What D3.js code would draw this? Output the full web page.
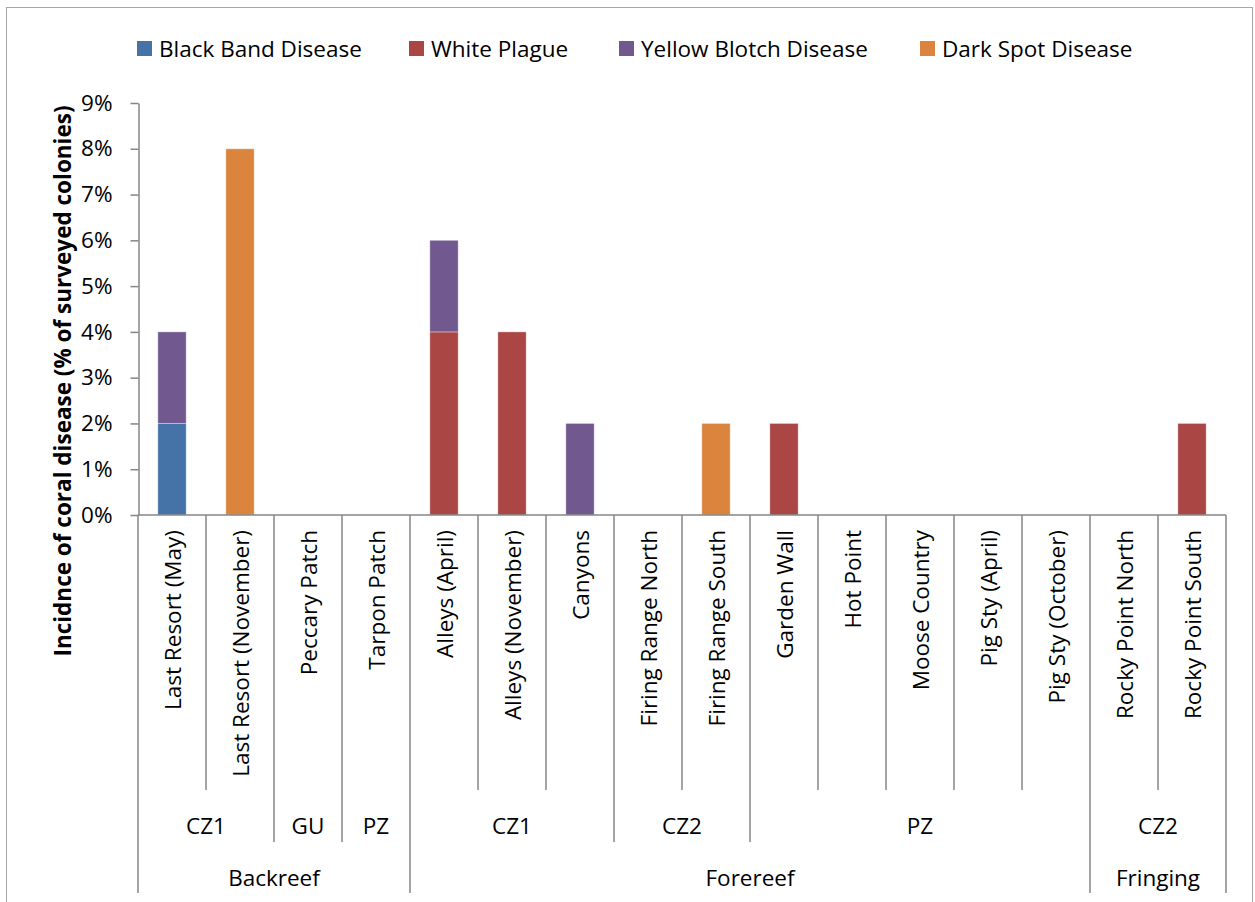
<!DOCTYPE html>
<html>
<head>
<meta charset="utf-8">
<script src="https://cdn.jsdelivr.net/npm/d3@7"></script>
<style>
  body { margin: 0; background: #fff; }
  svg { display: block; font-family: 'Open Sans', sans-serif; }
</style>
</head>
<body>
<svg id="chart" width="1255" height="902"></svg>
<script>
// Sites, grouped by zone and habitat
var sites = ['Last Resort (May)', 'Last Resort (November)', 'Peccary Patch', 'Tarpon Patch',
    'Alleys (April)', 'Alleys (November)', 'Canyons', 'Firing Range North', 'Firing Range South',
    'Garden Wall', 'Hot Point', 'Moose Country', 'Pig Sty (April)', 'Pig Sty (October)',
    'Rocky Point North', 'Rocky Point South'];
var zones = ['CZ1', 'CZ1', 'GU', 'PZ', 'CZ1', 'CZ1', 'CZ1', 'CZ2', 'CZ2',
    'PZ', 'PZ', 'PZ', 'PZ', 'PZ', 'CZ2', 'CZ2'];
var habitats = ['Backreef', 'Backreef', 'Backreef', 'Backreef',
    'Forereef', 'Forereef', 'Forereef', 'Forereef', 'Forereef', 'Forereef',
    'Forereef', 'Forereef', 'Forereef', 'Forereef', 'Fringing', 'Fringing'];

// Incidence (%) per disease
var diseases = ['Black Band Disease', 'White Plague', 'Yellow Blotch Disease', 'Dark Spot Disease'];
var blackBand    = [2, 0, 0, 0, 0, 0, 0, 0, 0, 0, 0, 0, 0, 0, 0, 0];
var whitePlague  = [0, 0, 0, 0, 4, 4, 0, 0, 0, 2, 0, 0, 0, 0, 0, 2];
var yellowBlotch = [2, 0, 0, 0, 2, 0, 2, 0, 0, 0, 0, 0, 0, 0, 0, 0];
var darkSpot     = [0, 8, 0, 0, 0, 0, 0, 0, 2, 0, 0, 0, 0, 0, 0, 0];
var yTicks = [0, 1, 2, 3, 4, 5, 6, 7, 8, 9];

var colors = ['#4572A7', '#AA4643', '#71588F', '#DB843D'];
var axisColor = '#868686';
var fontSize = 22.5;

var svg = d3.select('#chart');

// outer frame
svg.append('rect')
    .attr('x', 6.5).attr('y', 7.5)
    .attr('width', 1246).attr('height', 920)
    .attr('fill', 'none')
    .attr('stroke', '#a6a6a6');

var data = sites.map(function(s, i) {
    var o = { site: s };
    o[diseases[0]] = blackBand[i];
    o[diseases[1]] = whitePlague[i];
    o[diseases[2]] = yellowBlotch[i];
    o[diseases[3]] = darkSpot[i];
    return o;
});

var x = d3.scaleBand().domain(sites).range([138, 1226]);
var y = d3.scaleLinear().domain([0, 9]).range([515, 103]);
var z = d3.scaleOrdinal().domain(diseases).range(colors);
var barW = x.bandwidth() / 2.4;

// bars
var layer = svg.append('g')
    .selectAll('g')
    .data(d3.stack().keys(diseases)(data))
    .enter().append('g')
        .attr('fill', function(d) { return z(d.key); });

layer.selectAll('rect')
    .data(function(d) { return d.filter(function(p) { return p[1] > p[0]; }); })
    .enter().append('rect')
        .attr('x', function(d) { return x(d.data.site) + (x.bandwidth() - barW) / 2; })
        .attr('y', function(d) { return y(d[1]); })
        .attr('width', barW)
        .attr('height', function(d) { return y(d[0]) - y(d[1]); })
        .attr('stroke', 'rgba(255,255,255,0.35)')
        .attr('stroke-width', 1);

// y axis
var yAxis = svg.append('g')
    .attr('transform', 'translate(138.5,0)')
    .call(d3.axisLeft(y)
        .tickValues(yTicks)
        .tickSize(8)
        .tickSizeOuter(0)
        .tickPadding(18)
        .tickFormat(function(d) { return d + '%'; }));
yAxis.select('.domain').attr('stroke', axisColor).attr('stroke-width', 1.5);
yAxis.selectAll('.tick line').attr('stroke', axisColor).attr('stroke-width', 1.5);
yAxis.selectAll('.tick text')
    .attr('font-family', 'Open Sans, sans-serif')
    .attr('font-size', fontSize)
    .attr('fill', '#000');

svg.append('text')
    .attr('transform', 'translate(62,381) rotate(-90)')
    .attr('text-anchor', 'middle')
    .attr('dominant-baseline', 'central')
    .attr('font-weight', 'bold')
    .attr('font-size', 22.5)
    .text('Incidnce of coral disease (% of surveyed colonies)');

// x axis with multi-level categories
var level1 = 790, level2 = 842, level3 = 893;
var xAxis = svg.append('g')
    .attr('stroke', axisColor)
    .attr('stroke-width', 1.5);

xAxis.append('line')
    .attr('x1', 138).attr('x2', 1226)
    .attr('y1', 515).attr('y2', 515);

var bounds = d3.range(sites.length + 1);
xAxis.selectAll('.sep')
    .data(bounds)
    .enter().append('line')
        .attr('x1', function(i) { return i < sites.length ? x(sites[i]) : x.range()[1]; })
        .attr('x2', function(i) { return i < sites.length ? x(sites[i]) : x.range()[1]; })
        .attr('y1', 515)
        .attr('y2', function(i) {
            if (i === 0 || i === sites.length || habitats[i] !== habitats[i - 1]) return level3;
            if (zones[i] !== zones[i - 1]) return level2;
            return level1;
        });

svg.selectAll('.site')
    .data(sites)
    .enter().append('text')
        .attr('transform', function(d) {
            return 'translate(' + (x(d) + x.bandwidth() / 2) + ',530) rotate(-90)';
        })
        .attr('text-anchor', 'end')
        .attr('dominant-baseline', 'central')
        .attr('font-size', fontSize)
        .text(function(d) { return d; });

// collapse consecutive values into runs
function runs(keys) {
    var out = [];
    keys.forEach(function(k, i) {
        var last = out[out.length - 1];
        if (last && last.key === k && habitats[i] === habitats[last.end]) last.end = i;
        else out.push({ key: k, start: i, end: i });
    });
    return out;
}

svg.selectAll('.zone')
    .data(runs(zones))
    .enter().append('text')
        .attr('x', function(d) { return (x(sites[d.start]) + x(sites[d.end]) + x.bandwidth()) / 2; })
        .attr('y', 825)
        .attr('text-anchor', 'middle')
        .attr('dominant-baseline', 'central')
        .attr('font-size', fontSize)
        .text(function(d) { return d.key; });

svg.selectAll('.habitat')
    .data(runs(habitats))
    .enter().append('text')
        .attr('x', function(d) { return (x(sites[d.start]) + x(sites[d.end]) + x.bandwidth()) / 2; })
        .attr('y', 877)
        .attr('text-anchor', 'middle')
        .attr('dominant-baseline', 'central')
        .attr('font-size', fontSize)
        .text(function(d) { return d.key; });

// legend
var legendX = [137, 409, 619, 920];
var legend = svg.selectAll('.legend')
    .data(diseases)
    .enter().append('g')
        .attr('transform', function(d, i) { return 'translate(' + legendX[i] + ',41)'; });

legend.append('rect')
    .attr('width', 15).attr('height', 15)
    .attr('fill', function(d) { return z(d); });

legend.append('text')
    .attr('x', 22)
    .attr('y', 7)
    .attr('dominant-baseline', 'central')
    .attr('font-size', fontSize)
    .text(function(d) { return d; });
</script>
</body>
</html>
